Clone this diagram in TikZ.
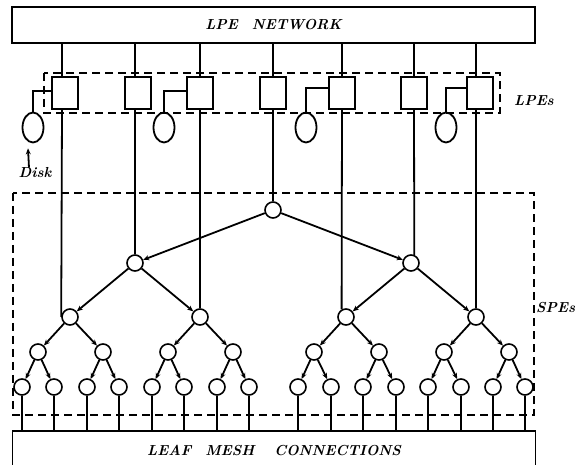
\documentclass[tikz,border=0pt]{standalone}
\usetikzlibrary{arrows.meta,shapes.geometric,calc}
\begin{document}
\begin{tikzpicture}[x=1pt,y=-1pt,
  lbl/.style={font=\fontsize{14.5}{16}\selectfont\bfseries\itshape, inner sep=0pt},
  bigbox/.style={draw, line width=1.8pt, minimum width=523pt, inner sep=0pt, lbl},
  lpe/.style={draw, line width=1.8pt, minimum width=26pt, minimum height=32pt, inner sep=0pt},
  disk/.style={draw, ellipse, line width=1.8pt, minimum width=21pt, minimum height=30pt, inner sep=0pt},
  pe/.style={draw, circle, line width=1.6pt, minimum size=16pt, inner sep=0pt, fill=white},
  link/.style={line width=1.8pt},
  arr/.style={link, -{Stealth[length=6pt,width=5pt]}},
  grp/.style={line width=1.8pt, dash pattern=on 8pt off 5pt}]
\useasboundingbox (0,0) rectangle (579,465);

% big boxes
\node[bigbox, minimum height=36pt] (net) at (273.5,25) {LPE\hspace{14pt}NETWORK};
\node[bigbox, minimum height=38pt] (leaf) at (274,450) {LEAF\hspace{14pt}MESH\hspace{20pt}CONNECTIONS};

% groups
\draw[grp] (44,73) rectangle (500,113);
\draw[grp] (13,193) rectangle (534,415);
\node[lbl] (lpel) at (534,101) {LPEs};
\node[lbl, anchor=west] (spel) at (536,308) {SPEs};

% LPE squares
\foreach \n/\x in {s1/65, s2/138, s3/200, s4/273, s5/342, s6/414, s7/480}
  \node[lpe] (\n) at (\x,93) {};

% disks
\foreach \n/\x in {k1/33, k2/164, k3/306, k4/446}
  \node[disk] (\n) at (\x,127.5) {};
\draw[link] (k1.north) |- ([yshift=2pt]s1.west);
\draw[link] (k2.north) |- ([yshift=2pt]s3.west);
\draw[link] (k3.north) |- ([yshift=5pt]s5.west);
\draw[link] (k4.north) |- ([yshift=5pt]s7.west);
\node[lbl] (dl) at (35,173) {Disk};
\draw[arr] ([xshift=-6pt]dl.north) -- ([xshift=-5pt,yshift=-5pt]k1.south);

% tree nodes
\node[pe] (r) at (273,210) {};
\foreach \n/\x in {b1/135, b2/411} \node[pe] (\n) at (\x,263) {};
\foreach \n/\x in {c1/70, c2/200, c3/346, c4/476} \node[pe] (\n) at (\x,317) {};
\foreach \n/\x in {d1/38, d2/103, d3/168, d4/233, d5/314, d6/379, d7/444, d8/509}
  \node[pe] (\n) at (\x,352) {};
\foreach \n/\x in {e1/22, e2/54, e3/87, e4/119, e5/152, e6/184, e7/217, e8/249,
                   e9/298, e10/331, e11/363, e12/396, e13/428, e14/461, e15/493, e16/525}
  \node[pe] (\n) at (\x,387) {};

% tree edges
\foreach \p/\c in {r/b1, r/b2, b1/c1, b1/c2, b2/c3, b2/c4,
                   c1/d1, c1/d2, c2/d3, c2/d4, c3/d5, c3/d6, c4/d7, c4/d8,
                   d1/e1, d1/e2, d2/e3, d2/e4, d3/e5, d3/e6, d4/e7, d4/e8,
                   d5/e9, d5/e10, d6/e11, d6/e12, d7/e13, d7/e14, d8/e15, d8/e16}
  \draw[arr] (\p) -- (\c);

% leaf connections
\foreach \i in {1,...,16}
  \draw[link] (e\i.south) -- (e\i.south |- leaf.north);

% LPE links (x of each line, target node, border angle)
\foreach \s/\t/\x/\a in {s1/c1/62/180, s2/b1/135/90, s3/c2/200/90, s4/r/273/90,
                         s5/c3/342/120, s6/b2/414/68, s7/c4/476/90} {
  \coordinate (x\s) at (\x,0);
  \draw[link] (net.south -| x\s) -- (\s.north -| x\s);
  \draw[link] (\s.south -| x\s) -- (\t.\a);
}
\end{tikzpicture}
\end{document}
